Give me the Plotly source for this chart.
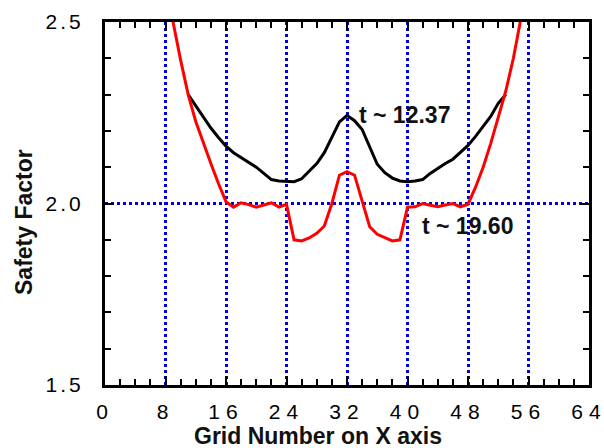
import plotly.graph_objects as go

# ---- data ----
x_black = list(range(11, 54))
y_black = [2.30, 2.27, 2.24, 2.208, 2.182, 2.158, 2.14, 2.127, 2.113, 2.10,
           2.083, 2.066, 2.062, 2.06, 2.06, 2.068, 2.088, 2.11, 2.14, 2.183,
           2.225, 2.243, 2.228, 2.204, 2.157, 2.108, 2.085, 2.07, 2.062, 2.06,
           2.062, 2.066, 2.083, 2.097, 2.11, 2.122, 2.14, 2.16, 2.185, 2.212,
           2.24, 2.276, 2.30]

x_red = list(range(8, 57))
y_red = [2.62, 2.50, 2.395, 2.30, 2.226, 2.165, 2.11, 2.055, 2.005, 1.99,
         2.002, 1.997, 1.99, 1.996, 2.002, 1.99, 1.998, 1.90, 1.897, 1.905,
         1.918, 1.938, 2.0, 2.078, 2.088, 2.078, 2.008, 1.936, 1.915, 1.905,
         1.897, 1.90, 1.99, 1.991, 2.0, 1.995, 1.991, 1.996, 2.0, 1.991,
         1.998, 2.045, 2.10, 2.165, 2.24, 2.31, 2.40, 2.50, 2.62]

x_ticks = [0, 8, 16, 24, 32, 40, 48, 56, 64]
y_ticks = [1.5, 2.0, 2.5]
y_tick_labels = ["1.5", "2.0", "2.5"]

label_black = "t ~ 12.37"
label_red = "t ~ 19.60"
x_title = "Grid Number on X axis"
y_title = "Safety Factor"

fig = go.Figure()
fig.add_trace(go.Scatter(x=x_black, y=y_black, mode="lines",
                         line=dict(color="black", width=3), showlegend=False))
fig.add_trace(go.Scatter(x=x_red, y=y_red, mode="lines",
                         line=dict(color="#ff0000", width=3), showlegend=False))

tickfont = dict(family="Liberation Sans, Arial, sans-serif", size=21, color="black")
boldfont = dict(family="Liberation Sans, Arial, sans-serif", size=23, color="#111111", weight="bold")

common = dict(showline=True, linecolor="black", linewidth=3, mirror="ticks",
              ticks="inside", ticklen=9, tickwidth=2, tickcolor="black",
              showgrid=True, gridcolor="#0000dd", griddash="dot", gridwidth=2.5,
              zeroline=False, tickfont=tickfont, automargin=False)

fig.update_xaxes(range=[0, 64], tickvals=x_ticks, ticktext=[str(v) for v in x_ticks],
                 ticklabelstandoff=6,
                 minor=dict(dtick=2, ticks="inside", ticklen=6, tickwidth=2,
                            tickcolor="black", showgrid=False),
                 **common)
fig.update_yaxes(range=[1.5, 2.5], tickvals=y_ticks, ticktext=y_tick_labels,
                 ticklabelstandoff=14,
                 minor=dict(dtick=0.1, ticks="inside", ticklen=6, tickwidth=2,
                            tickcolor="black", showgrid=False),
                 **common)

fig.add_annotation(x=39.63, y=2.245, xref="x", yref="y", text=label_black,
                   showarrow=False, font=boldfont, xanchor="center", yanchor="middle")
fig.add_annotation(x=47.97, y=1.9375, xref="x", yref="y", text=label_red,
                   showarrow=False, font=boldfont, xanchor="center", yanchor="middle")
fig.add_annotation(x=0.441, y=-0.1405, xref="paper", yref="paper", text=x_title,
                   showarrow=False, font=boldfont, xanchor="center", yanchor="middle")
fig.add_annotation(x=-0.1663, y=0.4477, xref="paper", yref="paper", text=y_title,
                   showarrow=False, font=boldfont, textangle=-90,
                   xanchor="center", yanchor="middle")

fig.update_layout(width=604, height=448,
                  margin=dict(l=105, r=15, t=22, b=63, autoexpand=False),
                  plot_bgcolor="white", paper_bgcolor="white")

post = """
document.body.style.margin = '0';
document.body.style.padding = '0';
document.body.style.overflow = 'hidden';
var gd = document.getElementById('{plot_id}');
function ls(){
  gd.querySelectorAll('.xtick text').forEach(function(t){ t.style.letterSpacing = '6px'; });
  gd.querySelectorAll('.ytick text').forEach(function(t){ t.style.letterSpacing = '3px'; });
}
ls();
gd.on('plotly_afterplot', ls);
"""
fig.write_html("out.html", post_script=post, config={"displayModeBar": False})
